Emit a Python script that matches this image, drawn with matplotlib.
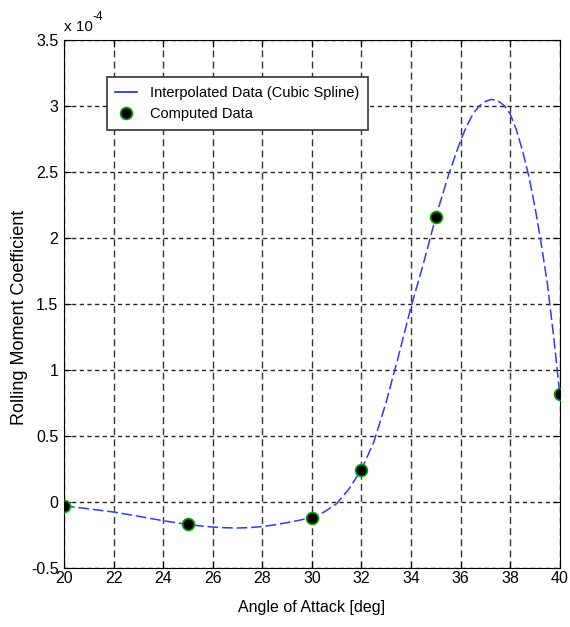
import numpy as np
import matplotlib
matplotlib.use("Agg")
import matplotlib.pyplot as plt
from matplotlib.lines import Line2D

plt.rcParams['font.family'] = ['Liberation Sans', 'DejaVu Sans']

# datos calculados (coeficiente en unidades de 1e-4)
alpha_calc = [20, 25, 30, 32, 35, 40]
cl_calc = [-0.03, -0.17, -0.12, 0.245, 2.16, 0.82]

# curva interpolada
alpha_int = [20, 20.5, 21, 21.5, 22, 22.5, 23, 23.5, 24, 24.5, 25, 25.5, 26, 26.5,
             27, 27.5, 28, 28.5, 29, 29.5, 30, 30.5, 31, 31.5, 32, 32.5, 33, 33.5,
             34, 34.5, 35, 35.5, 36, 36.25, 36.5, 36.75, 37, 37.25, 37.5, 37.75,
             38, 38.25, 38.5, 38.75, 39, 39.25, 39.5, 39.75, 40]
cl_int = [-0.028, -0.04, -0.052, -0.064, -0.076, -0.092, -0.108, -0.125, -0.142,
          -0.156, -0.17, -0.181, -0.19, -0.195, -0.197, -0.194, -0.186, -0.173,
          -0.156, -0.138, -0.117, -0.075, -0.012, 0.10, 0.245, 0.455, 0.758, 1.11,
          1.477, 1.806, 2.16, 2.47, 2.74, 2.85, 2.94, 3.00, 3.035, 3.05, 3.04,
          3.005, 2.94, 2.82, 2.66, 2.47, 2.235, 1.96, 1.655, 1.26, 0.82]

xticks = np.arange(20, 41, 2)
yticks = np.arange(-0.5, 3.51, 0.5)
ytick_lab = ['-0.5', '0', '0.5', '1', '1.5', '2', '2.5', '3', '3.5']

fig = plt.figure(figsize=(5.7, 6.27), dpi=100)
ax = fig.add_axes([0.1123, 0.0941, 0.8697, 0.8421])

ax.plot(alpha_int, cl_int, color='#2a3cff', lw=1.1, dashes=(7, 2.5), zorder=3)
ax.plot(alpha_calc, cl_calc, 'o', color='black', mec='#00a000', mew=1.2, ms=8.5, zorder=4)

ax.set_xlim(20, 40)
ax.set_ylim(-0.5, 3.5)
ax.set_xticks(xticks)
ax.set_yticks(yticks)
ax.set_yticklabels(ytick_lab)
ax.tick_params(direction='in', top=True, right=True, length=5, labelsize=11.5)
ax.tick_params(axis='x', pad=2)
ax.tick_params(axis='y', pad=4)

ax.xaxis.grid(True, color='#333333', lw=1, dashes=(5, 3))
ax.yaxis.grid(True, color='#222222', lw=1, dashes=(3, 2.5))
for s in ax.spines.values():
    s.set_color('black')

ax.set_xlabel('Angle of Attack [deg]', fontsize=11.5, labelpad=10)
fig.text(20 / 570, 1 - 317 / 627, 'Rolling Moment Coefficient', fontsize=13,
         rotation=90, ha='center', va='center')

ax.text(0.0, 1.012, 'x 10', transform=ax.transAxes, fontsize=11, ha='left', va='bottom')
ax.text(0.058, 1.033, '-4', transform=ax.transAxes, fontsize=8.5, ha='left', va='bottom')

handles = [Line2D([], [], color='#2020ff', lw=1.2),
           Line2D([], [], ls='none', marker='o', color='black', mec='#00a000', mew=1.2, ms=8.5)]
leg = ax.legend(handles, ['Interpolated Data (Cubic Spline)', 'Computed Data'],
                loc='upper left', bbox_to_anchor=(0.086, 0.929), fontsize=10.5,
                fancybox=False, framealpha=1, edgecolor='#333333', borderaxespad=0,
                handlelength=1.5, handletextpad=0.85, labelspacing=0.45,
                borderpad=0.6)
leg.get_frame().set_linewidth(1.2)
leg.set_zorder(5)

fig.savefig('out.png', dpi=100)
